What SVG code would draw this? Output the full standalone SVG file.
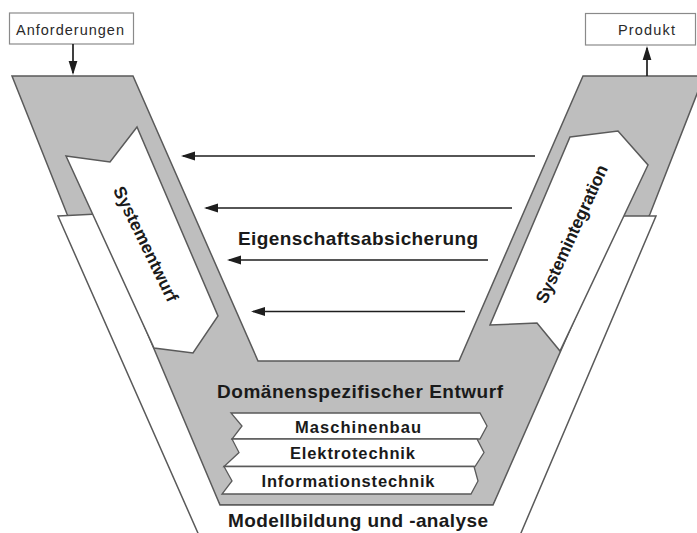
<svg xmlns="http://www.w3.org/2000/svg" width="697" height="533" viewBox="0 0 697 533">
<defs>
<style>
.gray{fill:#bebebe;stroke:#5a5a5a;stroke-width:1.5;stroke-linejoin:miter}
.white{fill:#ffffff;stroke:#5a5a5a;stroke-width:1.5;stroke-linejoin:miter}
.band{fill:#ffffff;stroke:#5a5a5a;stroke-width:1.3}
.box{fill:#ffffff;stroke:#8a8a8a;stroke-width:1.2}
.conn{stroke:#1e1e1e;stroke-width:1.7;fill:none;marker-end:url(#ah)}
.lbl{font-family:"Liberation Sans",Arial,sans-serif;fill:#2a2a2a;font-size:14.5px}
.big{font-family:"Liberation Sans",Arial,sans-serif;fill:#1a1a1a;font-size:19px;font-weight:bold;text-anchor:middle}
.mid{font-family:"Liberation Sans",Arial,sans-serif;fill:#1a1a1a;font-size:16.5px;font-weight:bold;text-anchor:middle}
.rot{font-family:"Liberation Sans",Arial,sans-serif;fill:#1a1a1a;font-size:17.5px;font-weight:bold;text-anchor:middle}
</style>
<marker id="ah" markerWidth="15" markerHeight="10" refX="12" refY="5" orient="auto" markerUnits="userSpaceOnUse">
<path d="M0,0.6 L14,5 L0,9.4 Z" fill="#1e1e1e"/>
</marker>
</defs>
<rect width="697" height="533" fill="#ffffff"/>

<g id="v-shape">
<path class="gray" d="M12,76 L133,76 L258,361 L459,361 L583,76 L704,76 L650,214 L493,505 L220,505 L67,214 Z"/>
</g>

<g id="modellbildung">
<path class="white" d="M58,216 L97,214 L220,505 L493,505 L620,216 L656,216 L518,540 L201,540 Z"/>
<text class="big" x="358" y="526.5" textLength="260">Modellbildung und -analyse</text>
</g>

<g id="systementwurf">
<path class="white" d="M66,156 L110,162 L137,127 L218,316 L193,353 L154,348 Z"/>
<text class="rot" transform="translate(146,244) rotate(64)" x="0" y="6.2" textLength="126">Systementwurf</text>
</g>

<g id="systemintegration">
<path class="white" d="M570,137 L618,131 L648,165 L560,351 L537,323 L490,325 Z"/>
<text class="rot" transform="translate(571.5,234) rotate(-65.5)" x="0" y="6.2" textLength="150">Systemintegration</text>
</g>

<g id="domaenen">
<text class="big" x="360" y="398" textLength="286">Domänenspezifischer Entwurf</text>
</g>

<g id="maschinenbau">
<path class="band" d="M231,413 L480,413 L487,426 L480,439 L232,439 L242,426 Z"/>
<text class="mid" x="358" y="433.3" textLength="126">Maschinenbau</text>
</g>
<g id="elektrotechnik">
<path class="band" d="M232,439 L477,439 L484,452.5 L475,466.5 L224,466.5 L239,452.5 Z"/>
<text class="mid" x="352.5" y="459" textLength="125">Elektrotechnik</text>
</g>
<g id="informationstechnik">
<path class="band" d="M224,466.5 L474,466.5 L478,481 L471,494 L222,494 L232,481 Z"/>
<text class="mid" x="348" y="486.7" textLength="173">Informationstechnik</text>
</g>

<g id="eigenschaftsabsicherung">
<text class="big" x="358" y="245" textLength="240">Eigenschaftsabsicherung</text>
</g>

<g id="anforderungen">
<rect class="box" x="9.5" y="13" width="124" height="31"/>
<text class="lbl" x="16" y="35" textLength="108">Anforderungen</text>
</g>

<g id="produkt">
<rect class="box" x="585.5" y="13.5" width="110" height="31.5"/>
<text class="lbl" x="618" y="35" textLength="57">Produkt</text>
</g>

<g id="connectors">
<line class="conn" x1="73" y1="44" x2="73" y2="73"/>
<line class="conn" x1="647" y1="76" x2="647" y2="48"/>
<line class="conn" x1="535" y1="156" x2="183" y2="156"/>
<line class="conn" x1="512" y1="208" x2="206" y2="208"/>
<line class="conn" x1="488" y1="260" x2="229" y2="260"/>
<line class="conn" x1="465" y1="311.5" x2="253" y2="311.5"/>
</g>
</svg>
